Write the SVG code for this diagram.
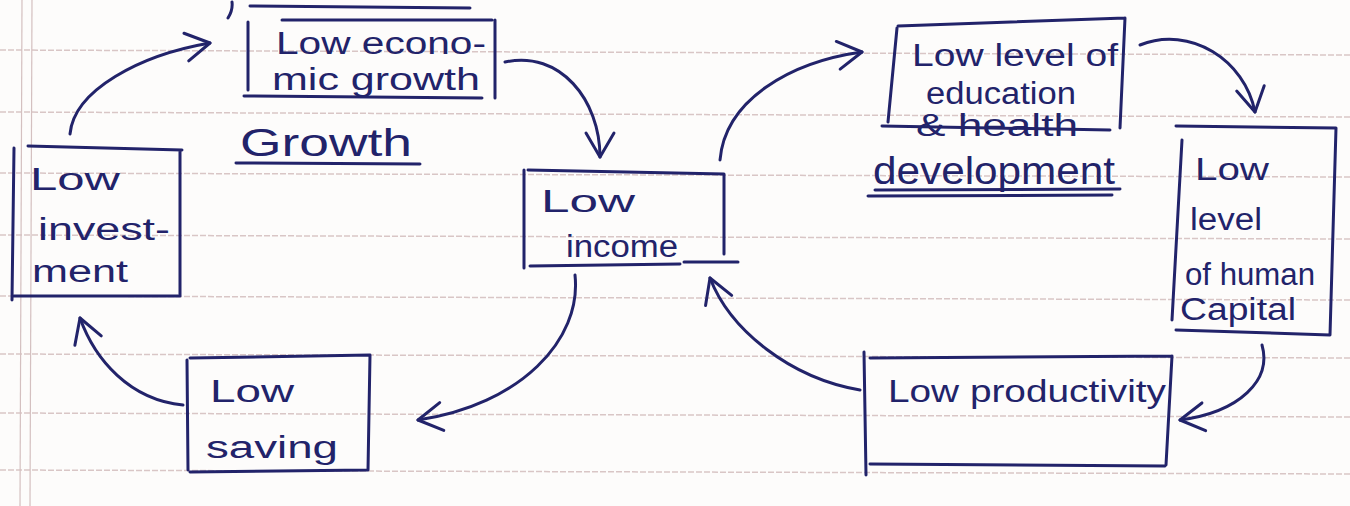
<svg xmlns="http://www.w3.org/2000/svg" width="1350" height="506" viewBox="0 0 1350 506">
<style>
.ink{fill:none;stroke:#22236a;stroke-width:3;stroke-linecap:round;stroke-linejoin:round}
.rule{stroke:#d9c6c6;stroke-width:1.5;stroke-dasharray:6 2}
.margin{stroke:#d4c0c0;stroke-width:1.2}
text{font-family:"Liberation Sans","DejaVu Sans",sans-serif;fill:#22236a;font-size:31px}
.head{font-size:38px}
</style>
<defs>
<marker id="ah" markerUnits="userSpaceOnUse" markerWidth="40" markerHeight="40" refX="0" refY="0" viewBox="-30 -20 40 40" orient="auto" overflow="visible">
<path d="M -24 -14 L 0 0 L -24 14" fill="none" stroke="#22236a" stroke-width="3" stroke-linecap="round" stroke-linejoin="round"/>
</marker>
</defs>
<rect width="1350" height="506" fill="#fdfcfb"/>
<g id="paper">
<line class="rule" x1="0" y1="50" x2="1350" y2="55"/>
<line class="rule" x1="0" y1="112" x2="1350" y2="117"/>
<line class="rule" x1="0" y1="173" x2="1350" y2="177"/>
<line class="rule" x1="0" y1="235" x2="1350" y2="239"/>
<line class="rule" x1="0" y1="296" x2="1350" y2="300"/>
<line class="rule" x1="0" y1="354" x2="1350" y2="358"/>
<line class="rule" x1="0" y1="413" x2="1350" y2="417"/>
<line class="rule" x1="0" y1="470" x2="1350" y2="474"/>
<line class="margin" x1="22" y1="0" x2="20" y2="506"/>
<line class="margin" x1="32" y1="0" x2="30" y2="506"/>
<path class="ink" d="M 228 18 Q 233 10 232 2 M 250 6 L 470 8" stroke-width="2"/>
</g>
<g id="n-growth">
<path class="ink" d="M 248 22 L 248 90 M 282 20 L 492 20 M 495 20 L 495 98 M 244 96 L 482 98"/>
<text x="276" y="54" textLength="210" lengthAdjust="spacingAndGlyphs">Low econo-</text>
<text x="272" y="90" textLength="208" lengthAdjust="spacingAndGlyphs">mic growth</text>
</g>
<g id="h-growth">
<text class="head" x="240" y="156" textLength="172" lengthAdjust="spacingAndGlyphs">Growth</text>
<path class="ink" d="M 236 163 L 420 164"/>
</g>
<g id="n-investment">
<path class="ink" d="M 14 148 L 12 300 M 28 146 L 182 150 M 180 150 L 180 296 M 14 296 L 178 296"/>
<text x="30" y="190" textLength="90" lengthAdjust="spacingAndGlyphs">Low</text>
<text x="38" y="240" textLength="132" lengthAdjust="spacingAndGlyphs">invest-</text>
<text x="32" y="282" textLength="96" lengthAdjust="spacingAndGlyphs">ment</text>
</g>
<g id="n-income">
<path class="ink" d="M 524 170 L 524 268 M 528 170 L 724 174 M 724 174 L 724 254 M 530 266 L 680 264 M 684 262 L 738 262"/>
<text x="541" y="212" textLength="94" lengthAdjust="spacingAndGlyphs">Low</text>
<text x="566" y="257" textLength="112" lengthAdjust="spacingAndGlyphs">income</text>
</g>
<g id="n-education">
<path class="ink" d="M 897 28 L 888 122 M 898 26 L 1125 18 M 1125 18 L 1120 128 M 882 126 L 1110 130"/>
<text x="912" y="66" textLength="206" lengthAdjust="spacingAndGlyphs">Low level of</text>
<text x="926" y="104" textLength="150" lengthAdjust="spacingAndGlyphs">education</text>
<text x="916" y="136" textLength="162" lengthAdjust="spacingAndGlyphs">&amp; health</text>
</g>
<g id="h-development">
<text class="head" x="873" y="184" textLength="242" lengthAdjust="spacingAndGlyphs">development</text>
<path class="ink" d="M 875 190 L 1120 189 M 868 196 L 1112 195"/>
</g>
<g id="n-human">
<path class="ink" d="M 1176 126 L 1336 128 M 1336 128 L 1330 335 M 1182 140 L 1172 320 M 1176 330 L 1330 335"/>
<text x="1195" y="180" textLength="74" lengthAdjust="spacingAndGlyphs">Low</text>
<text x="1190" y="230" textLength="72" lengthAdjust="spacingAndGlyphs">level</text>
<text x="1185" y="285" textLength="130" lengthAdjust="spacingAndGlyphs">of human</text>
<text x="1180" y="320" textLength="116" lengthAdjust="spacingAndGlyphs">Capital</text>
</g>
<g id="n-productivity">
<path class="ink" d="M 864 352 L 866 475 M 870 358 L 1172 356 M 1172 356 L 1166 465 M 870 464 L 1165 466"/>
<text x="888" y="402" textLength="278" lengthAdjust="spacingAndGlyphs">Low productivity</text>
</g>
<g id="n-saving">
<path class="ink" d="M 187 360 L 188 470 M 190 358 L 370 355 M 370 355 L 368 470 M 190 472 L 368 470"/>
<text x="210" y="402" textLength="84" lengthAdjust="spacingAndGlyphs">Low</text>
<text x="206" y="458" textLength="132" lengthAdjust="spacingAndGlyphs">saving</text>
</g>
<g id="connectors">
<path class="ink" marker-end="url(#ah)" d="M 70 134 C 74 90 140 55 210 43"/>
<path class="ink" marker-end="url(#ah)" d="M 505 62 C 560 50 600 100 600 157"/>
<path class="ink" marker-end="url(#ah)" d="M 720 160 C 725 100 790 62 862 52"/>
<path class="ink" marker-end="url(#ah)" d="M 1140 45 C 1190 25 1245 60 1255 112"/>
<path class="ink" marker-end="url(#ah)" d="M 1262 345 C 1272 380 1240 412 1180 420"/>
<path class="ink" marker-end="url(#ah)" d="M 860 390 C 790 378 730 330 710 278"/>
<path class="ink" marker-end="url(#ah)" d="M 575 275 C 582 340 520 405 418 420"/>
<path class="ink" marker-end="url(#ah)" d="M 183 405 C 130 400 95 360 80 318"/>
</g>
</svg>
